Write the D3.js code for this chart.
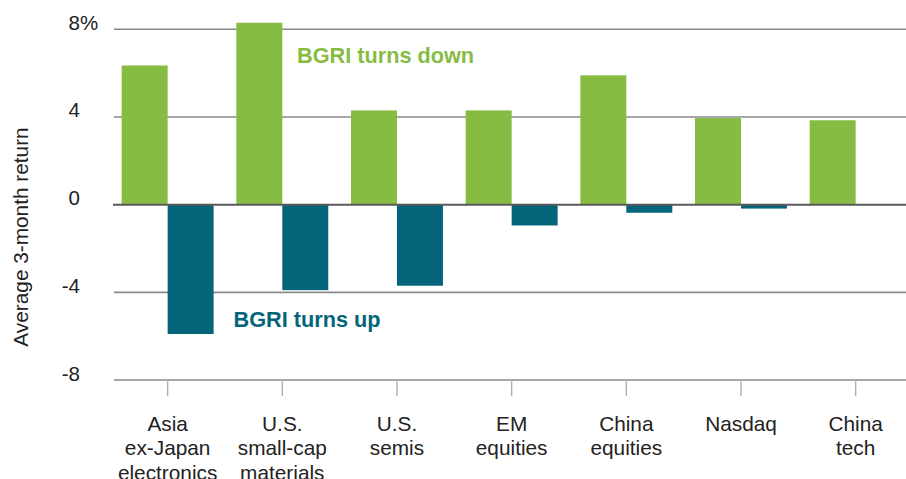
<!DOCTYPE html>
<html>
<head>
<meta charset="utf-8">
<script src="https://cdn.jsdelivr.net/npm/d3@7"></script>
<style>
  body { margin: 0; background: #fff; }
  svg text { font-family: "Liberation Sans", Arial, sans-serif; }
</style>
</head>
<body>
<svg id="chart" width="906" height="479"></svg>
<script>
// categories (line breaks as in the reference)
var categories = [
    ['Asia', 'ex-Japan', 'electronics'],
    ['U.S.', 'small-cap', 'materials'],
    ['U.S.', 'semis'],
    ['EM', 'equities'],
    ['China', 'equities'],
    ['Nasdaq'],
    ['China', 'tech']
];
var turnsDown = [6.35, 8.3, 4.3, 4.3, 5.9, 3.95, 3.85];   // BGRI turns down
var turnsUp = [-5.9, -3.9, -3.7, -0.95, -0.37, -0.18, 0];  // BGRI turns up
var yTicks = [-8, -4, 0, 4, 8];

var green = '#85bc41',
    teal = '#04657a';

var svg = d3.select('#chart');

var names = categories.map(function(c) { return c.join(' '); });

var x0 = d3.scaleBand()
    .domain(names)
    .range([110.3, 913])
    .paddingInner(0)
    .paddingOuter(0);

var x1 = d3.scaleBand()
    .domain(['down', 'up'])
    .range([0, x0.bandwidth()])
    .paddingInner(0)
    .paddingOuter(0.247);

var y = d3.scaleLinear()
    .domain([-8, 8])
    .range([380, 29.3]);

// gridlines (behind bars)
svg.append('g')
    .selectAll('line')
    .data(yTicks.filter(function(d) { return d !== 0; }))
    .enter()
    .append('line')
    .attr('x1', 114)
    .attr('x2', 906)
    .attr('y1', function(d) { return y(d); })
    .attr('y2', function(d) { return y(d); })
    .attr('stroke', '#8a8a8a')
    .attr('stroke-width', 1.6);

// y tick labels
var yl = svg.append('g');
yl.selectAll('text')
    .data(yTicks)
    .enter()
    .append('text')
    .attr('x', 80)
    .attr('y', function(d) { return y(d) + 0.5; })
    .attr('text-anchor', 'end')
    .attr('font-size', 20.5)
    .attr('fill', '#222')
    .text(function(d) { return d; });
yl.append('text')
    .attr('x', 80)
    .attr('y', y(8) + 0.5)
    .attr('font-size', 20.5)
    .attr('fill', '#222')
    .text('%');

// y axis title
svg.append('text')
    .attr('transform', 'translate(28,237) rotate(-90)')
    .attr('text-anchor', 'middle')
    .attr('font-size', 20.8)
    .attr('fill', '#222')
    .text('Average 3-month return');

// bars
var groups = svg.append('g')
    .selectAll('g')
    .data(names)
    .enter()
    .append('g')
    .attr('transform', function(d) { return 'translate(' + x0(d) + ',0)'; });

groups.append('rect')
    .attr('x', x1('down'))
    .attr('width', x1.bandwidth())
    .attr('y', function(d, i) { return y(Math.max(0, turnsDown[i])); })
    .attr('height', function(d, i) { return Math.abs(y(turnsDown[i]) - y(0)); })
    .attr('fill', green);

groups.append('rect')
    .attr('x', x1('up'))
    .attr('width', x1.bandwidth())
    .attr('y', function(d, i) { return y(Math.max(0, turnsUp[i])); })
    .attr('height', function(d, i) { return Math.abs(y(turnsUp[i]) - y(0)); })
    .attr('fill', teal);

// zero line on top
svg.append('line')
    .attr('x1', 113)
    .attr('x2', 906)
    .attr('y1', y(0))
    .attr('y2', y(0))
    .attr('stroke', '#5a5a5a')
    .attr('stroke-width', 2);

// category ticks + labels
var cats = svg.append('g')
    .selectAll('g')
    .data(categories)
    .enter()
    .append('g')
    .attr('transform', function(d, i) {
        return 'translate(' + (x0(names[i]) + x0.bandwidth() / 2) + ',0)';
    });

cats.append('line')
    .attr('y1', y(-8))
    .attr('y2', y(-8) + 16)
    .attr('stroke', '#b0b0b0')
    .attr('stroke-width', 1.4);

cats.append('text')
    .attr('text-anchor', 'middle')
    .attr('font-size', 20.8)
    .attr('fill', '#222')
    .selectAll('tspan')
    .data(function(d) { return d; })
    .enter()
    .append('tspan')
    .attr('x', 0)
    .attr('y', function(d, i) { return 430.5 + i * 24.5; })
    .text(function(d) { return d; });

// annotations
svg.append('text')
    .attr('x', 297)
    .attr('y', 63)
    .attr('font-size', 21.7)
    .attr('font-weight', 'bold')
    .attr('fill', green)
    .text('BGRI turns down');

svg.append('text')
    .attr('x', 233.5)
    .attr('y', 327)
    .attr('font-size', 21.7)
    .attr('font-weight', 'bold')
    .attr('fill', teal)
    .text('BGRI turns up');
</script>
</body>
</html>
